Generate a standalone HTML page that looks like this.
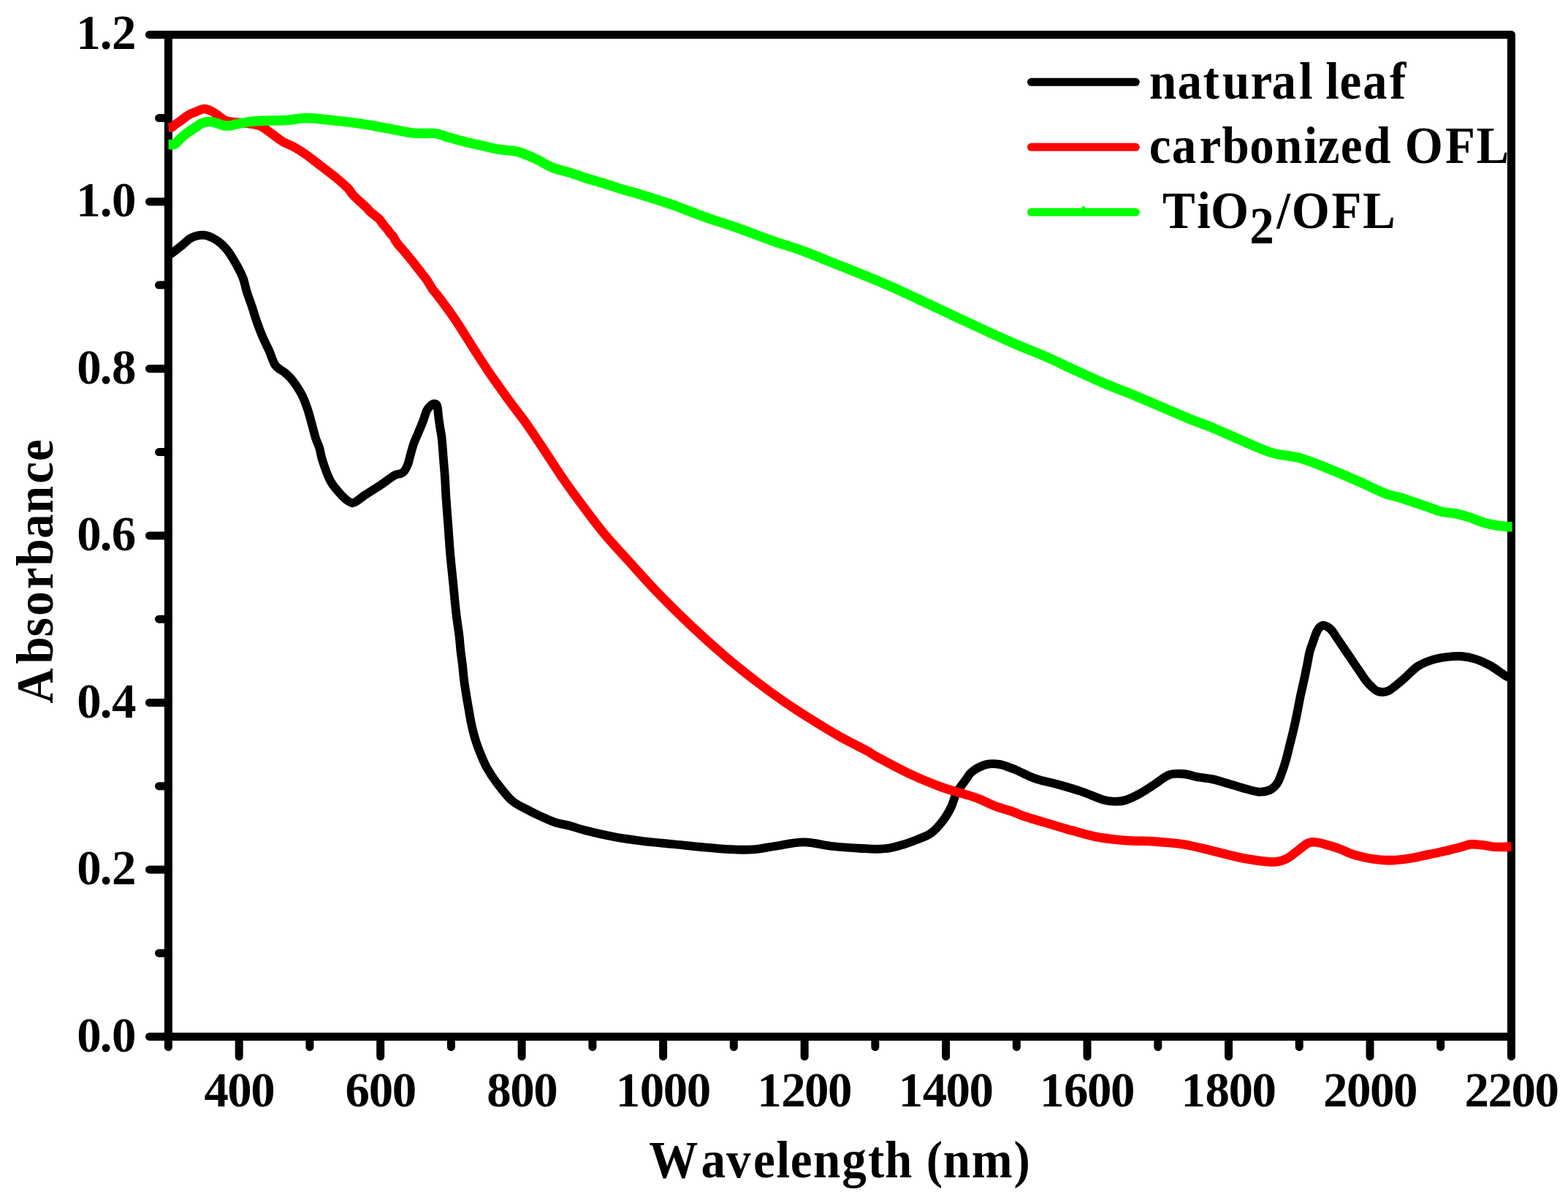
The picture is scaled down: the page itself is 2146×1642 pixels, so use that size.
<!DOCTYPE html>
<html><head><meta charset="utf-8"><title>Absorbance spectra</title>
<style>html,body{margin:0;padding:0;background:#fff;}svg{display:block;}</style></head>
<body><svg xmlns="http://www.w3.org/2000/svg" width="2146" height="1642" viewBox="0 0 2146 1642">
<rect width="2146" height="1642" fill="#fff"/>
<rect x="230.4" y="47.4" width="1838.0" height="1371.0" fill="none" stroke="#000" stroke-width="11" stroke-linejoin="round"/>
<g stroke="#000" stroke-width="11" stroke-linecap="round"><line x1="230.4" y1="1418.4" x2="204.5" y2="1418.4"/><line x1="230.4" y1="1304.2" x2="217.5" y2="1304.2"/><line x1="230.4" y1="1189.9" x2="204.5" y2="1189.9"/><line x1="230.4" y1="1075.7" x2="217.5" y2="1075.7"/><line x1="230.4" y1="961.4" x2="204.5" y2="961.4"/><line x1="230.4" y1="847.2" x2="217.5" y2="847.2"/><line x1="230.4" y1="732.9" x2="204.5" y2="732.9"/><line x1="230.4" y1="618.6" x2="217.5" y2="618.6"/><line x1="230.4" y1="504.4" x2="204.5" y2="504.4"/><line x1="230.4" y1="390.1" x2="217.5" y2="390.1"/><line x1="230.4" y1="275.9" x2="204.5" y2="275.9"/><line x1="230.4" y1="161.6" x2="217.5" y2="161.6"/><line x1="230.4" y1="47.4" x2="204.5" y2="47.4"/><line x1="230.4" y1="1418.4" x2="230.4" y2="1432.7"/><line x1="327.2" y1="1418.4" x2="327.2" y2="1445.7"/><line x1="423.9" y1="1418.4" x2="423.9" y2="1432.7"/><line x1="520.7" y1="1418.4" x2="520.7" y2="1445.7"/><line x1="617.4" y1="1418.4" x2="617.4" y2="1432.7"/><line x1="714.1" y1="1418.4" x2="714.1" y2="1445.7"/><line x1="810.9" y1="1418.4" x2="810.9" y2="1432.7"/><line x1="907.6" y1="1418.4" x2="907.6" y2="1445.7"/><line x1="1004.3" y1="1418.4" x2="1004.3" y2="1432.7"/><line x1="1101.1" y1="1418.4" x2="1101.1" y2="1445.7"/><line x1="1197.8" y1="1418.4" x2="1197.8" y2="1432.7"/><line x1="1294.6" y1="1418.4" x2="1294.6" y2="1445.7"/><line x1="1391.3" y1="1418.4" x2="1391.3" y2="1432.7"/><line x1="1488.0" y1="1418.4" x2="1488.0" y2="1445.7"/><line x1="1584.8" y1="1418.4" x2="1584.8" y2="1432.7"/><line x1="1681.5" y1="1418.4" x2="1681.5" y2="1445.7"/><line x1="1778.2" y1="1418.4" x2="1778.2" y2="1432.7"/><line x1="1875.0" y1="1418.4" x2="1875.0" y2="1445.7"/><line x1="1971.7" y1="1418.4" x2="1971.7" y2="1432.7"/><line x1="2068.4" y1="1418.4" x2="2068.4" y2="1445.7"/></g>
<g font-family="Liberation Serif, Times New Roman, serif" font-weight="bold" font-size="66.9" fill="#000"><text x="105.18 136.69 152.88" y="1438.7">0.0</text><text x="105.18 136.69 152.91" y="1210.2">0.2</text><text x="105.18 136.69 153.04" y="981.7">0.4</text><text x="105.18 136.69 152.71" y="753.2">0.6</text><text x="105.18 136.69 152.88" y="524.7">0.8</text><text x="104.23 136.69 152.88" y="296.2">1.0</text><text x="104.23 136.69 152.91" y="66.7">1.2</text><text x="279.38 311.21 343.21" y="1514">400</text><text x="472.52 504.69 536.69" y="1514">600</text><text x="666.16 698.16 730.16" y="1514">800</text><text x="842.69 875.63 907.63 939.63" y="1514">1000</text><text x="1036.16 1069.14 1101.11 1133.11" y="1514">1200</text><text x="1229.63 1262.74 1294.58 1326.58" y="1514">1400</text><text x="1423.11 1455.89 1488.05 1520.05" y="1514">1600</text><text x="1616.58 1649.53 1681.53 1713.53" y="1514">1800</text><text x="1811.03 1843.00 1875.00 1907.00" y="1514">2000</text><text x="2004.51 2036.51 2068.47 2100.47" y="1514">2200</text></g>
<g font-family="Liberation Serif, Times New Roman, serif" font-weight="bold" fill="#000"><text transform="scale(0.925,1)" x="960.24 1037.36 1074.69 1114.53 1148.76 1169.56 1203.20 1245.65 1284.21 1309.16 1349.48 1370.58 1395.47 1437.56 1499.97" y="1611.2" font-size="72.5">Wavelength (nm)</text><text transform="translate(72.1,0) rotate(-90) scale(0.925,1)" x="-1040.70 -982.23 -941.83 -911.10 -871.74 -837.31 -796.74 -759.13 -715.45 -682.12" y="0" font-size="72.5">Absorbance</text></g>
<g fill="none" stroke-linejoin="round" stroke-linecap="butt"><path d="M230.5,349.0 C231.4,348.5 232.8,348.3 236.0,346.0 C239.2,343.7 245.7,338.4 250.0,335.0 C254.3,331.6 257.0,327.6 262.0,325.4 C267.0,323.2 274.3,321.3 280.0,321.8 C285.7,322.3 291.0,325.2 296.0,328.4 C301.0,331.6 305.6,335.7 310.0,341.0 C314.4,346.3 318.7,353.5 322.4,360.0 C326.1,366.5 329.8,373.3 332.4,380.0 C335.0,386.7 335.9,393.3 338.0,400.0 C340.1,406.7 342.8,413.3 345.0,420.0 C347.2,426.7 349.1,433.3 351.4,440.0 C353.7,446.7 356.2,453.3 359.0,460.0 C361.8,466.7 365.4,473.3 368.4,480.0 C371.4,486.7 373.4,495.0 377.0,500.0 C380.6,505.0 386.2,506.7 390.0,510.0 C393.8,513.3 396.2,515.0 400.0,520.0 C403.8,525.0 409.5,533.3 413.0,540.0 C416.5,546.7 418.7,553.3 421.0,560.0 C423.3,566.7 424.8,573.3 426.7,580.0 C428.6,586.7 430.4,594.5 432.2,600.0 C433.9,605.5 435.9,608.6 437.2,613.0 C438.5,617.4 439.0,621.8 440.2,626.1 C441.4,630.5 442.9,634.8 444.4,639.1 C445.9,643.5 448.0,648.9 449.4,652.2 C450.8,655.5 451.4,656.5 452.6,658.7 C453.9,660.9 455.3,663.0 456.9,665.2 C458.5,667.4 460.4,669.6 462.3,671.8 C464.2,674.0 466.0,676.2 468.0,678.3 C470.0,680.4 472.2,682.5 474.5,684.2 C476.8,685.9 479.7,688.1 482.0,688.3 C484.3,688.5 485.5,687.4 488.5,685.5 C491.5,683.6 494.8,680.5 500.0,677.0 C505.2,673.5 513.3,668.8 520.0,664.4 C526.7,660.0 535.3,653.1 540.0,650.4 C544.7,647.7 545.8,649.2 548.0,648.2 C550.2,647.2 551.8,646.7 553.5,644.5 C555.2,642.3 556.8,639.0 558.3,635.0 C559.8,631.0 560.9,625.3 562.3,620.4 C563.7,615.5 564.9,610.7 566.7,605.8 C568.5,600.9 570.9,596.1 572.9,591.2 C574.9,586.3 577.0,581.4 578.9,576.5 C580.8,571.6 582.3,565.4 584.0,561.9 C585.7,558.4 587.2,557.1 589.0,555.5 C590.8,553.9 592.9,552.4 594.5,552.5 C596.1,552.6 597.6,553.2 598.5,556.0 C599.4,558.8 599.4,564.6 600.0,569.2 C600.6,573.9 601.4,579.0 602.1,583.9 C602.9,588.8 603.9,593.6 604.5,598.5 C605.1,603.4 605.4,608.2 605.8,613.1 C606.2,618.0 606.5,622.8 606.9,627.7 C607.3,632.6 607.7,637.4 608.1,642.3 C608.5,647.2 608.8,650.7 609.2,657.0 C609.6,663.3 609.7,669.5 610.4,680.0 C611.1,690.5 612.4,706.7 613.4,720.0 C614.4,733.3 615.2,746.7 616.4,760.0 C617.6,773.3 619.1,786.7 620.4,800.0 C621.7,813.3 623.0,828.3 624.4,840.0 C625.8,851.7 627.5,861.7 628.5,870.0 C629.5,878.3 629.6,883.3 630.4,890.0 C631.1,896.7 632.2,903.3 633.0,910.0 C633.8,916.7 634.2,923.3 635.0,930.0 C635.8,936.7 636.9,943.3 638.0,950.0 C639.1,956.7 640.2,963.3 641.4,970.0 C642.6,976.7 643.6,983.3 645.0,990.0 C646.4,996.7 648.0,1003.3 650.0,1010.0 C652.0,1016.7 654.3,1023.3 657.0,1030.0 C659.7,1036.7 662.3,1043.3 666.0,1050.0 C669.7,1056.7 673.3,1062.5 679.0,1070.0 C684.7,1077.5 693.2,1088.8 700.0,1095.0 C706.8,1101.2 713.3,1103.3 720.0,1107.0 C726.7,1110.7 733.3,1113.9 740.0,1117.0 C746.7,1120.1 753.3,1123.2 760.0,1125.4 C766.7,1127.6 773.3,1128.2 780.0,1130.0 C786.7,1131.8 790.0,1133.5 800.0,1136.0 C810.0,1138.5 826.7,1142.5 840.0,1145.0 C853.3,1147.5 866.7,1149.3 880.0,1151.0 C893.3,1152.7 906.7,1153.7 920.0,1155.0 C933.3,1156.3 946.7,1157.8 960.0,1159.0 C973.3,1160.2 988.3,1161.6 1000.0,1162.2 C1011.7,1162.8 1020.0,1163.1 1030.0,1162.4 C1040.0,1161.7 1048.3,1159.7 1060.0,1158.0 C1071.7,1156.3 1086.7,1152.4 1100.0,1152.4 C1113.3,1152.4 1126.7,1156.6 1140.0,1158.0 C1153.3,1159.4 1170.0,1160.4 1180.0,1161.0 C1190.0,1161.6 1193.6,1161.9 1200.0,1161.8 C1206.4,1161.7 1212.4,1161.4 1218.6,1160.3 C1224.8,1159.2 1231.1,1157.2 1237.3,1155.3 C1243.5,1153.3 1249.7,1151.2 1255.9,1148.6 C1262.1,1146.0 1268.8,1144.1 1274.6,1139.8 C1280.4,1135.5 1286.3,1128.5 1290.9,1122.5 C1295.5,1116.5 1299.0,1110.1 1302.0,1103.9 C1305.0,1097.7 1305.7,1091.4 1309.0,1085.2 C1312.3,1079.0 1318.5,1071.5 1322.1,1066.6 C1325.7,1061.7 1326.0,1059.3 1330.5,1055.9 C1335.0,1052.5 1342.9,1048.0 1349.1,1046.3 C1355.3,1044.6 1361.6,1044.9 1367.8,1045.8 C1374.0,1046.7 1381.0,1049.9 1386.4,1051.9 C1391.8,1053.9 1394.4,1055.6 1400.0,1058.0 C1405.6,1060.4 1411.7,1063.7 1420.0,1066.4 C1428.3,1069.1 1440.0,1071.2 1450.0,1074.0 C1460.0,1076.8 1470.0,1079.6 1480.0,1083.0 C1490.0,1086.4 1502.3,1092.1 1510.0,1094.4 C1517.7,1096.7 1521.0,1096.5 1526.0,1096.6 C1531.0,1096.7 1534.3,1096.8 1540.0,1095.0 C1545.7,1093.2 1553.3,1089.6 1560.0,1086.0 C1566.7,1082.4 1573.3,1077.7 1580.0,1073.4 C1586.7,1069.1 1593.3,1062.8 1600.0,1060.4 C1606.7,1058.0 1613.3,1058.5 1620.0,1059.0 C1626.7,1059.5 1633.3,1062.2 1640.0,1063.4 C1646.7,1064.6 1653.3,1065.0 1660.0,1066.4 C1666.7,1067.8 1673.3,1070.1 1680.0,1072.0 C1686.7,1073.9 1693.0,1076.1 1700.0,1078.0 C1707.0,1079.9 1715.7,1083.0 1722.0,1083.5 C1728.3,1084.0 1733.7,1082.9 1738.0,1081.0 C1742.3,1079.1 1745.4,1075.5 1748.0,1072.0 C1750.6,1068.5 1751.4,1065.3 1753.4,1060.0 C1755.4,1054.7 1758.1,1046.7 1760.0,1040.0 C1761.9,1033.3 1763.3,1026.7 1765.0,1020.0 C1766.7,1013.3 1768.4,1006.7 1770.0,1000.0 C1771.6,993.3 1772.8,988.0 1774.4,980.0 C1776.1,972.0 1778.4,959.1 1779.9,951.9 C1781.4,944.7 1782.2,941.9 1783.3,936.9 C1784.4,931.9 1785.5,927.0 1786.5,922.0 C1787.5,917.0 1788.5,912.1 1789.5,907.1 C1790.5,902.1 1791.1,897.2 1792.4,892.2 C1793.7,887.2 1795.9,881.6 1797.4,877.3 C1798.9,872.9 1800.1,869.1 1801.4,866.1 C1802.8,863.1 1803.9,860.8 1805.5,859.0 C1807.1,857.2 1809.1,855.9 1810.9,855.6 C1812.7,855.4 1814.5,856.4 1816.5,857.5 C1818.5,858.6 1820.0,859.3 1822.6,862.4 C1825.2,865.5 1828.6,871.3 1832.0,876.3 C1835.4,881.3 1839.7,887.6 1843.1,892.6 C1846.5,897.6 1849.3,901.7 1852.5,906.5 C1855.7,911.3 1859.9,917.4 1862.5,921.2 C1865.1,925.0 1865.8,926.6 1868.1,929.5 C1870.3,932.4 1873.0,935.8 1876.0,938.5 C1879.0,941.2 1882.0,944.9 1886.0,946.0 C1890.0,947.1 1894.3,948.1 1900.0,945.4 C1905.7,942.7 1913.3,935.6 1920.0,930.0 C1926.7,924.4 1933.3,916.5 1940.0,912.0 C1946.7,907.5 1953.3,905.2 1960.0,903.0 C1966.7,900.8 1973.3,899.8 1980.0,899.0 C1986.7,898.2 1993.3,897.5 2000.0,898.0 C2006.7,898.5 2013.3,899.8 2020.0,902.0 C2026.7,904.2 2033.3,907.3 2040.0,911.0 C2046.7,914.7 2055.3,921.6 2060.0,924.4 C2064.7,927.2 2067.0,927.4 2068.4,928.0" stroke="#000" stroke-width="11.8"/><path d="M230.5,174.5 C231.3,174.4 234.1,174.6 235.6,174.0 C237.1,173.4 237.1,172.4 239.3,170.8 C241.5,169.2 245.5,166.6 248.6,164.3 C251.7,162.1 254.9,159.1 258.0,157.3 C261.1,155.5 264.2,154.6 267.3,153.3 C270.4,152.0 274.1,150.1 276.6,149.4 C279.1,148.8 279.9,148.9 282.2,149.4 C284.5,149.9 287.7,151.0 290.6,152.6 C293.6,154.2 296.8,157.0 299.9,159.1 C303.0,161.2 305.3,163.8 309.2,165.2 C313.1,166.6 317.8,166.8 323.2,167.5 C328.6,168.2 336.4,168.6 341.8,169.4 C347.2,170.2 351.9,170.8 355.8,172.2 C359.7,173.6 362.0,175.9 365.1,178.0 C368.2,180.1 370.6,182.0 374.5,184.8 C378.4,187.6 383.8,191.9 388.4,194.6 C393.0,197.3 397.7,198.5 402.4,201.1 C407.1,203.7 411.9,206.8 416.4,209.9 C420.9,213.0 425.7,216.6 429.4,219.4 C433.1,222.2 434.0,223.0 438.6,226.6 C443.2,230.2 451.1,235.9 457.3,241.0 C463.5,246.1 471.7,253.2 475.9,257.3 C480.1,261.4 479.9,263.0 482.4,265.8 C484.9,268.6 488.5,271.9 490.9,274.2 C493.3,276.5 494.8,277.7 496.6,279.4 C498.4,281.1 500.0,282.6 501.6,284.2 C503.2,285.8 504.3,287.4 506.1,289.1 C507.9,290.8 510.4,292.7 512.5,294.5 C514.6,296.3 517.3,298.0 519.0,299.7 C520.7,301.4 521.3,303.0 522.5,304.6 C523.7,306.2 525.0,307.9 526.4,309.5 C527.8,311.1 529.4,312.8 530.7,314.4 C532.0,316.0 532.8,317.6 534.1,319.2 C535.4,320.8 537.3,322.5 538.5,324.1 C539.7,325.7 540.0,327.3 541.1,329.0 C542.2,330.7 542.5,331.5 544.9,334.4 C547.3,337.3 551.9,342.4 555.3,346.5 C558.7,350.6 562.0,354.6 565.3,358.7 C568.5,362.8 571.6,366.8 574.8,370.9 C577.9,375.0 581.4,379.0 584.2,383.1 C587.0,387.2 588.9,391.2 591.8,395.3 C594.6,399.4 596.1,400.4 601.3,407.4 C606.5,414.4 615.3,426.1 622.9,437.3 C630.5,448.5 638.7,462.2 646.7,474.6 C654.7,487.0 662.4,499.4 670.9,511.8 C679.4,524.2 689.2,537.7 697.5,549.1 C705.8,560.5 712.4,568.3 720.7,580.1 C729.0,591.9 738.9,607.1 747.5,620.0 C756.1,632.9 763.6,644.9 772.2,657.3 C780.8,669.7 790.0,682.2 799.3,694.6 C808.6,707.0 817.7,719.4 828.1,731.8 C838.5,744.2 849.7,755.9 861.7,769.1 C873.7,782.3 885.9,796.3 900.0,810.9 C914.1,825.5 931.1,842.2 946.6,856.9 C962.1,871.5 978.1,885.9 993.2,898.8 C1008.3,911.7 1023.7,923.7 1037.3,934.1 C1050.9,944.5 1062.2,952.6 1074.6,961.1 C1087.0,969.6 1099.4,977.5 1111.8,985.3 C1124.2,993.1 1136.7,1000.7 1149.1,1007.7 C1161.5,1014.7 1177.9,1022.6 1186.4,1027.2 C1194.9,1031.8 1190.5,1030.4 1200.0,1035.6 C1209.5,1040.8 1228.9,1051.3 1243.3,1058.1 C1257.7,1064.9 1273.8,1071.5 1286.6,1076.3 C1299.4,1081.0 1311.1,1083.8 1320.0,1086.6 C1328.9,1089.4 1332.6,1090.4 1339.8,1093.2 C1347.0,1096.0 1355.2,1100.5 1363.0,1103.4 C1370.8,1106.3 1380.2,1108.6 1386.4,1110.8 C1392.6,1113.0 1394.4,1114.5 1400.0,1116.4 C1405.6,1118.3 1410.0,1119.4 1420.0,1122.4 C1430.0,1125.4 1446.7,1130.6 1460.0,1134.4 C1473.3,1138.2 1486.7,1142.4 1500.0,1145.0 C1513.3,1147.6 1526.7,1148.9 1540.0,1150.0 C1553.3,1151.1 1566.7,1150.5 1580.0,1151.4 C1593.3,1152.3 1606.7,1153.2 1620.0,1155.4 C1633.3,1157.6 1646.7,1161.3 1660.0,1164.4 C1673.3,1167.5 1686.7,1171.5 1700.0,1174.0 C1713.3,1176.5 1730.0,1179.2 1740.0,1179.4 C1750.0,1179.6 1754.2,1177.8 1760.0,1175.4 C1765.8,1173.0 1769.9,1168.6 1774.9,1165.0 C1779.9,1161.4 1785.3,1155.9 1789.8,1153.8 C1794.3,1151.7 1796.8,1152.0 1801.8,1152.6 C1806.8,1153.1 1814.1,1155.5 1819.6,1157.1 C1825.1,1158.7 1829.6,1160.1 1834.6,1162.0 C1839.6,1163.9 1844.5,1166.5 1849.5,1168.3 C1854.5,1170.0 1859.4,1171.3 1864.4,1172.5 C1869.4,1173.7 1874.3,1174.7 1879.3,1175.4 C1884.3,1176.1 1889.2,1176.7 1894.2,1176.9 C1899.2,1177.2 1904.1,1177.2 1909.1,1176.9 C1914.1,1176.7 1919.0,1176.1 1924.0,1175.4 C1929.0,1174.7 1933.9,1173.8 1938.9,1172.8 C1943.9,1171.8 1948.9,1170.5 1953.9,1169.5 C1958.9,1168.5 1963.8,1167.6 1968.8,1166.5 C1973.8,1165.4 1978.7,1164.3 1983.7,1163.1 C1988.7,1161.9 1993.6,1160.6 1998.6,1159.3 C2003.6,1158.0 2008.5,1155.8 2013.5,1155.3 C2018.5,1154.8 2023.4,1155.8 2028.4,1156.3 C2033.4,1156.8 2038.3,1158.1 2043.3,1158.6 C2048.3,1159.0 2054.0,1159.0 2058.2,1159.0 C2062.4,1159.0 2066.7,1158.4 2068.4,1158.3" stroke="#f00" stroke-width="12.5"/><path d="M230.5,197.4 C231.9,197.4 236.0,199.0 239.0,197.4 C242.0,195.8 245.4,190.8 248.6,188.0 C251.8,185.2 254.9,182.8 258.0,180.6 C261.1,178.3 264.2,176.5 267.3,174.5 C270.4,172.5 273.5,169.8 276.6,168.5 C279.7,167.2 282.8,166.7 285.9,166.6 C289.0,166.5 292.1,167.2 295.2,168.0 C298.3,168.8 301.5,170.7 304.6,171.3 C307.7,172.0 310.8,172.1 313.9,171.9 C317.0,171.7 320.1,170.5 323.2,169.9 C326.3,169.3 329.4,168.8 332.5,168.2 C335.6,167.6 337.1,167.1 341.8,166.6 C346.5,166.1 354.3,165.5 360.5,165.2 C366.7,164.9 372.9,165.1 379.1,164.9 C385.3,164.7 391.0,164.6 397.8,164.0 C404.6,163.4 410.2,161.5 420.0,161.6 C429.8,161.7 444.2,163.6 456.3,164.8 C468.4,166.1 480.6,167.3 492.7,169.1 C504.8,170.9 516.9,173.2 529.0,175.4 C541.1,177.6 554.3,180.9 565.4,182.1 C576.5,183.3 587.6,181.6 595.7,182.6 C603.8,183.6 606.7,185.9 613.8,187.9 C620.9,189.9 630.4,192.6 638.1,194.5 C645.8,196.4 652.3,197.6 660.0,199.3 C667.7,201.0 676.1,203.3 684.2,204.7 C692.3,206.1 700.4,205.5 708.5,207.6 C716.6,209.7 724.6,213.5 732.7,217.2 C740.8,220.9 748.8,226.4 756.9,229.6 C765.0,232.8 773.1,234.1 781.2,236.6 C789.3,239.1 797.3,242.2 805.4,244.8 C813.5,247.4 821.5,249.5 829.6,252.0 C837.7,254.5 846.2,257.4 853.8,259.7 C861.4,262.0 864.1,262.3 875.2,265.7 C886.3,269.1 905.2,274.9 920.2,280.1 C935.2,285.4 950.2,291.9 965.2,297.2 C980.2,302.5 995.2,306.9 1010.2,312.2 C1025.2,317.5 1040.3,323.5 1055.3,328.8 C1070.3,334.1 1085.3,338.3 1100.3,343.8 C1115.3,349.3 1130.3,355.8 1145.3,361.8 C1160.3,367.8 1175.4,373.6 1190.4,379.8 C1205.4,386.1 1222.1,393.3 1235.4,399.3 C1248.7,405.3 1257.6,409.8 1270.0,415.6 C1282.4,421.5 1296.7,428.2 1310.0,434.4 C1323.3,440.6 1336.7,446.9 1350.0,453.0 C1363.3,459.1 1376.7,465.3 1390.0,471.0 C1403.3,476.7 1416.7,481.6 1430.0,487.4 C1443.3,493.2 1456.7,499.9 1470.0,506.0 C1483.3,512.1 1496.7,518.3 1510.0,524.0 C1523.3,529.7 1536.7,534.5 1550.0,540.0 C1563.3,545.5 1576.7,551.3 1590.0,557.0 C1603.3,562.7 1618.3,569.3 1630.0,574.0 C1641.7,578.7 1648.3,580.6 1660.0,585.4 C1671.7,590.2 1686.7,597.3 1700.0,603.0 C1713.3,608.7 1726.7,615.4 1740.0,619.4 C1753.3,623.4 1766.7,623.2 1780.0,627.0 C1793.3,630.8 1806.7,636.7 1820.0,642.0 C1833.3,647.3 1850.0,654.6 1860.0,659.0 C1870.0,663.4 1873.6,665.5 1880.0,668.4 C1886.4,671.3 1892.4,674.2 1898.6,676.3 C1904.8,678.4 1911.1,679.3 1917.3,681.2 C1923.5,683.1 1929.7,685.4 1935.9,687.5 C1942.1,689.6 1948.4,691.7 1954.6,693.8 C1960.8,695.9 1967.0,698.8 1973.2,700.3 C1979.4,701.8 1985.6,701.4 1991.8,702.6 C1998.0,703.8 2004.3,705.6 2010.5,707.6 C2016.7,709.6 2022.9,712.7 2029.1,714.6 C2035.3,716.5 2042.4,717.9 2047.8,718.9 C2053.2,719.9 2058.1,720.3 2061.7,720.6 C2065.3,720.9 2068.2,720.8 2069.5,720.8" stroke="#0f0" stroke-width="13.5"/></g>
<g stroke-width="11" stroke-linecap="round"><line x1="1411.4" y1="112.35" x2="1554.3" y2="112.35" stroke="#000"/><line x1="1411.4" y1="201.35" x2="1554.3" y2="201.35" stroke="#f00"/><line x1="1411.4" y1="290.35" x2="1554.3" y2="290.35" stroke="#0f0"/></g><path d="M1480.6,285 L1481.6,282 L1484.2,282 L1485.2,285 Z" fill="#0f0"/><g font-family="Liberation Serif, Times New Roman, serif" font-weight="bold" font-size="72.0" fill="#000" transform="scale(0.930,1)"><text x="1691.38 1732.73 1770.49 1798.95 1840.44 1871.38 1911.90 1931.90 1950.82 1971.52 2005.31 2045.14" y="135.2">natural leaf</text><text x="1691.05 1724.40 1765.06 1798.40 1838.99 1876.44 1918.77 1939.54 1972.97 2006.72 2046.76 2067.48 2126.97 2172.48" y="222.9">carbonized OFL</text><text y="311.6"><tspan x="1710.70 1761.56 1781.62">TiO</tspan><tspan x="1838.97" dy="21.8">2</tspan><tspan x="1878.85 1900.87 1959.55 2005.49" dy="-21.8">/OFL</tspan></text></g>
</svg></body></html>
